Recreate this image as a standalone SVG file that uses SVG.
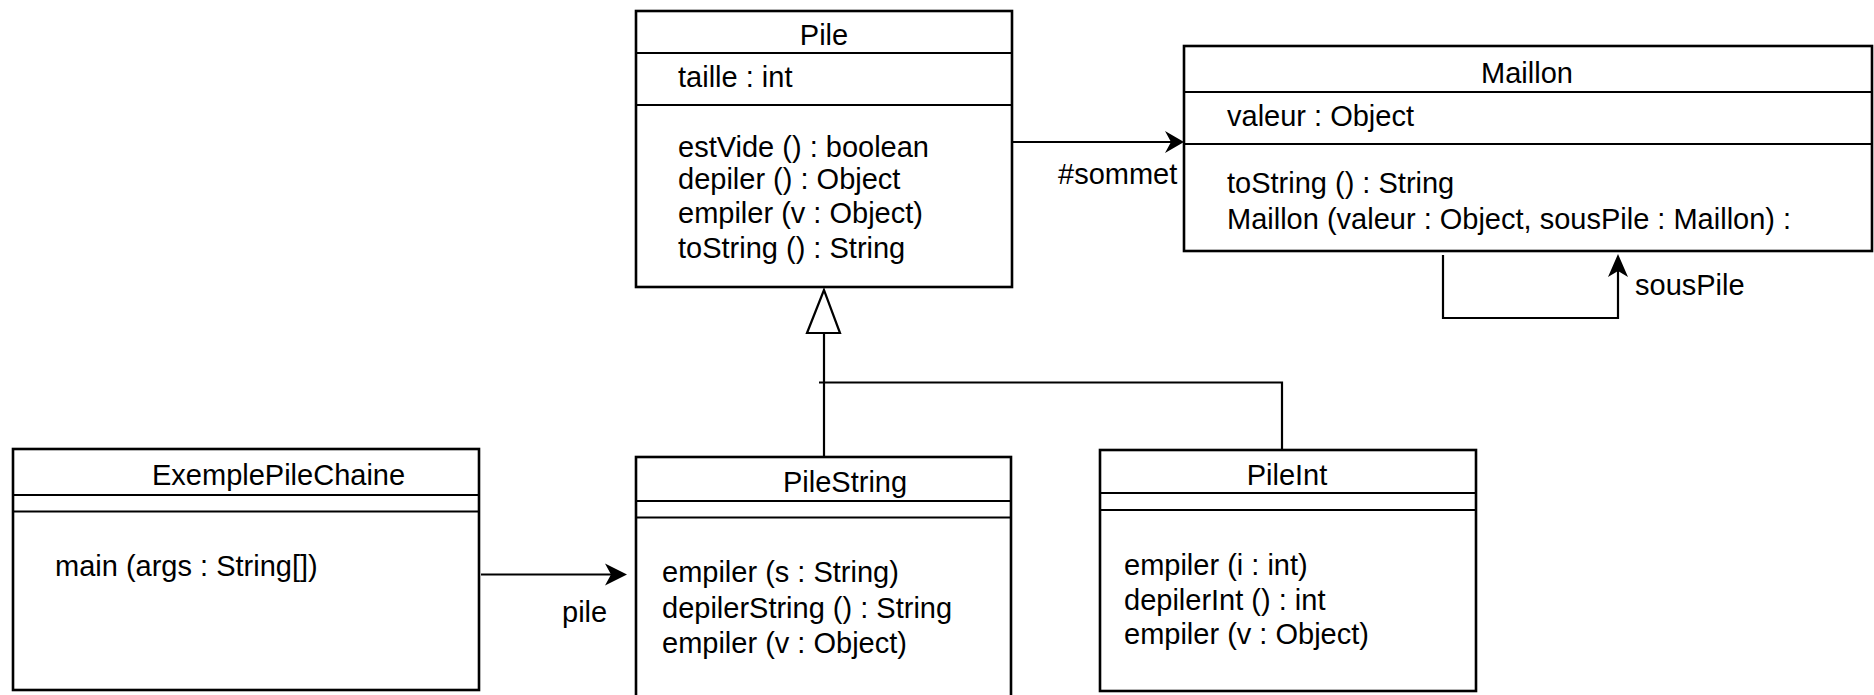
<svg xmlns="http://www.w3.org/2000/svg" width="1874" height="695" viewBox="0 0 1874 695">
<style>
.box{fill:#fff;stroke:#000;stroke-width:2.6}
.div{stroke:#000;stroke-width:2.2}
.con{fill:none;stroke:#000;stroke-width:2.2}
text{font-family:"Liberation Sans",Arial,sans-serif;font-size:29px;fill:#000}
.c{text-anchor:middle}
</style>
<rect width="1874" height="695" fill="#fff"/>
<g id="Pile">
<rect class="box" x="636" y="11" width="376" height="276"/>
<line class="div" x1="636" y1="53" x2="1012" y2="53"/>
<line class="div" x1="636" y1="105" x2="1012" y2="105"/>
<text class="c" x="824" y="45">Pile</text>
<text x="678" y="87">taille : int</text>
<text x="678" y="157">estVide () : boolean</text>
<text x="678" y="189">depiler () : Object</text>
<text x="678" y="223">empiler (v : Object)</text>
<text x="678" y="258">toString () : String</text>
</g>
<g id="Maillon">
<rect class="box" x="1184" y="46" width="688" height="205"/>
<line class="div" x1="1184" y1="92" x2="1872" y2="92"/>
<line class="div" x1="1184" y1="144" x2="1872" y2="144"/>
<text class="c" x="1527" y="83">Maillon</text>
<text x="1227" y="126">valeur : Object</text>
<text x="1227" y="193">toString () : String</text>
<text x="1227" y="229">Maillon (valeur : Object, sousPile : Maillon) :</text>
</g>
<g id="ExemplePileChaine">
<rect class="box" x="13" y="449" width="466" height="241"/>
<line class="div" x1="13" y1="495" x2="479" y2="495"/>
<line class="div" x1="13" y1="511.5" x2="479" y2="511.5"/>
<text x="152" y="485">ExemplePileChaine</text>
<text x="55" y="576">main (args : String[])</text>
</g>
<g id="PileString">
<rect class="box" x="636" y="457" width="375" height="250"/>
<line class="div" x1="636" y1="501" x2="1011" y2="501"/>
<line class="div" x1="636" y1="517.5" x2="1011" y2="517.5"/>
<text x="783" y="492">PileString</text>
<text x="662" y="582">empiler (s : String)</text>
<text x="662" y="618">depilerString () : String</text>
<text x="662" y="653">empiler (v : Object)</text>
</g>
<g id="PileInt">
<rect class="box" x="1100" y="450" width="376" height="241"/>
<line class="div" x1="1100" y1="493" x2="1476" y2="493"/>
<line class="div" x1="1100" y1="510" x2="1476" y2="510"/>
<text class="c" x="1287" y="485">PileInt</text>
<text x="1124" y="575">empiler (i : int)</text>
<text x="1124" y="610">depilerInt () : int</text>
<text x="1124" y="644">empiler (v : Object)</text>
</g>
<g id="connectors">
<line class="con" x1="1012" y1="142" x2="1176" y2="142"/>
<path d="M1184,142 L1165,131 L1171,142 L1165,153 Z" fill="#000"/>
<text x="1058" y="184">#sommet</text>
<polygon points="824,290 807,333 840,333" fill="#fff" stroke="#000" stroke-width="2.2"/>
<line class="con" x1="824" y1="333" x2="824" y2="457"/>
<polyline class="con" points="819,382.5 1282,382.5 1282,450"/>
<polyline class="con" points="1443,255 1443,318 1618,318 1618,262"/>
<path d="M1618,254 L1608,277 L1618,271 L1628,277 Z" fill="#000"/>
<text x="1635" y="295">sousPile</text>
<line class="con" x1="481" y1="574.5" x2="619" y2="574.5"/>
<path d="M627,574.5 L605,563.5 L611,574.5 L605,585.5 Z" fill="#000"/>
<text x="562" y="622">pile</text>
</g>
</svg>
